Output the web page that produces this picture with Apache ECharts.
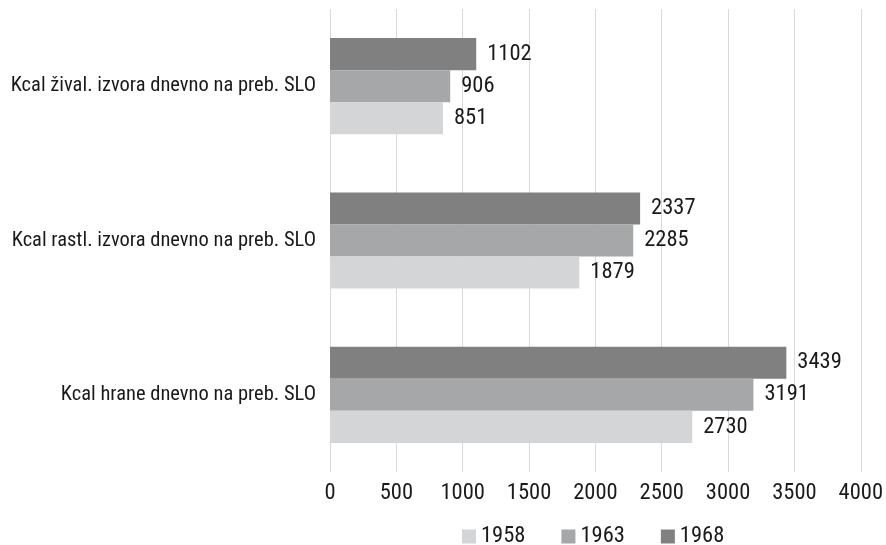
<!DOCTYPE html>
<html><head><meta charset="utf-8">
<script src="https://cdn.jsdelivr.net/npm/echarts@6/dist/echarts.min.js"></script>
<style>html,body{margin:0;padding:0;background:#fff}#c{width:886px;height:545px}</style>
</head><body><div id="c"></div>
<script>
const categories = ['Kcal hrane dnevno na preb. SLO', 'Kcal rastl. izvora dnevno na preb. SLO', 'Kcal žival. izvora dnevno na preb. SLO'];
const seriesNames = ['1958', '1963', '1968'];
const v1958 = [2730, 1879, 851];
const v1963 = [3191, 2285, 906];
const v1968 = [3439, 2337, 1102];
const xTicks = [0, 500, 1000, 1500, 2000, 2500, 3000, 3500, 4000];
const colors = ['#d4d5d6', '#a6a7a9', '#7f807f'];
const FONT = '"Roboto Condensed", "Liberation Sans Narrow", sans-serif';
const FS_CAT = 20.5;
const FS_NUM = 22.5;
const chart = echarts.init(document.getElementById('c'));
const values = [v1958, v1963, v1968];
const order = [2, 1, 0];
chart.setOption({
  animation: false,
  textStyle: { fontFamily: FONT },
  grid: { left: 330, right: 24, top: 9, bottom: 73, containLabel: false },
  legend: {
    top: 520, left: 457, itemWidth: 14, itemHeight: 14, itemGap: 36,
    icon: 'rect',
    textStyle: { fontFamily: FONT, fontSize: FS_NUM, color: '#1a1a1a' },
    data: seriesNames
  },
  xAxis: {
    type: 'value', min: xTicks[0], max: xTicks[xTicks.length - 1], interval: 500,
    axisLine: { show: false }, axisTick: { show: false },
    splitLine: { lineStyle: { color: '#d9d9d9', width: 1 } },
    axisLabel: { margin: 10, fontFamily: FONT, fontSize: FS_NUM, color: '#1a1a1a', formatter: v => String(v) }
  },
  yAxis: {
    type: 'category', data: categories,
    axisLine: { show: false }, axisTick: { show: false },
    axisLabel: { margin: 14, fontFamily: FONT, fontSize: FS_CAT, color: '#1a1a1a' }
  },
  series: order.map(i => ({
    name: seriesNames[i], type: 'bar', data: values[i],
    barGap: '0%', barCategoryGap: '37.7%',
    itemStyle: { color: colors[i] },
    label: { show: true, position: 'right', distance: 11, fontFamily: FONT, fontSize: FS_NUM, color: '#1a1a1a' }
  }))
});
</script></body></html>
